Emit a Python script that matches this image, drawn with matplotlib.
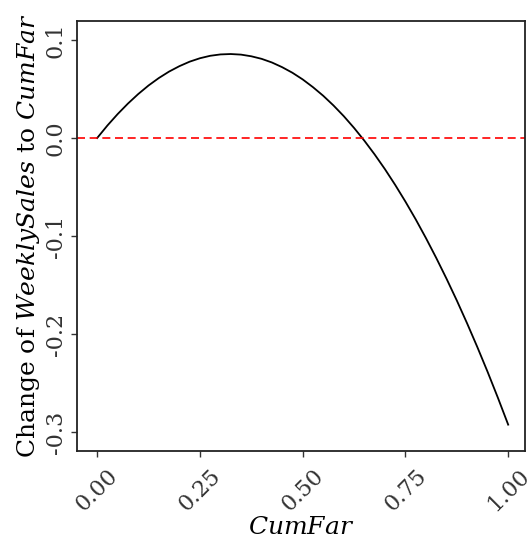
import matplotlib
matplotlib.use("Agg")
import matplotlib.pyplot as plt

# values
cum_far = [0.000, 0.025, 0.050, 0.075, 0.100, 0.125, 0.150, 0.175, 0.200, 0.225,
           0.250, 0.275, 0.300, 0.325, 0.350, 0.375, 0.400, 0.425, 0.450, 0.475,
           0.500, 0.525, 0.550, 0.575, 0.600, 0.625, 0.650, 0.675, 0.700, 0.725,
           0.750, 0.775, 0.800, 0.825, 0.850, 0.875, 0.900, 0.925, 0.950, 0.975, 1.000]
change = [0.0000, 0.0128, 0.0245, 0.0352, 0.0449, 0.0536, 0.0612, 0.0678, 0.0733, 0.0779,
          0.0814, 0.0839, 0.0853, 0.0857, 0.0851, 0.0834, 0.0808, 0.0771, 0.0723, 0.0666,
          0.0598, 0.0519, 0.0431, 0.0332, 0.0223, 0.0103, -0.0027, -0.0167, -0.0317, -0.0478,
          -0.0649, -0.0830, -0.1022, -0.1224, -0.1436, -0.1658, -0.1891, -0.2134, -0.2387, -0.2651, -0.2925]
ref_line = 0.0
x_ticks = [0.00, 0.25, 0.50, 0.75, 1.00]
x_labels = ["0.00", "0.25", "0.50", "0.75", "1.00"]
y_ticks = [-0.3, -0.2, -0.1, 0.0, 0.1]
y_labels = ["-0.3", "-0.2", "-0.1", "0.0", "0.1"]

plt.rcParams['font.family'] = ['DejaVu Serif']
plt.rcParams['mathtext.fontset'] = 'custom'
plt.rcParams['mathtext.rm'] = 'DejaVu Serif'
plt.rcParams['mathtext.it'] = 'DejaVu Serif:italic'

fig = plt.figure(figsize=(5.29, 5.47), dpi=100)
ax = fig.add_axes([0.1456, 0.1755, 0.8469, 0.7861])

ax.plot(cum_far, change, color='black', lw=1.3)
ax.axhline(ref_line, color='red', lw=1.2, ls=(0, (4.8, 2.8)))

ax.set_xlim(-0.049, 1.041)
ax.set_ylim(-0.3194, 0.1194)
ax.set_xticks(x_ticks)
ax.set_xticklabels(x_labels, rotation=45, ha='center', va='top')
ax.set_yticks(y_ticks)
ax.set_yticklabels(y_labels, rotation=90, va='center')
ax.tick_params(direction='out', length=4, width=1, color='#333333',
               labelcolor='#333333', labelsize=16)
ax.tick_params(axis='x', pad=6)

for s in ax.spines.values():
    s.set_linewidth(1.3)
    s.set_color('#222222')

ax.set_xlabel(r'$\mathit{CumFar}$', fontsize=18, labelpad=0)
ax.set_ylabel(r'Change of $\mathit{WeeklySales}$ to $\mathit{CumFar}$', fontsize=18, labelpad=2)

fig.savefig('out.png', dpi=100)
